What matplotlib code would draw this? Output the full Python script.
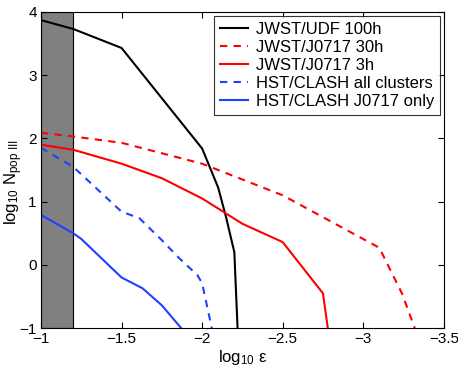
import numpy as np
import matplotlib.pyplot as plt

plt.rcParams['font.family'] = ['Liberation Sans', 'DejaVu Sans']
plt.rcParams['mathtext.fontset'] = 'custom'
plt.rcParams['mathtext.rm'] = 'Liberation Sans'
plt.rcParams['mathtext.it'] = 'Liberation Sans'

# data (log10 eps, log10 N)
udf_x = [-1.0, -1.2, -1.5, -2.0, -2.1, -2.15, -2.2, -2.22]
udf_y = [3.87, 3.73, 3.43, 1.84, 1.22, 0.74, 0.2, -1.0]

j30_x = [-1.0, -1.2, -1.5, -2.0, -2.5, -3.1, -3.24, -3.32]
j30_y = [2.09, 2.03, 1.93, 1.6, 1.1, 0.27, -0.45, -1.0]

j3_x = [-1.0, -1.2, -1.5, -1.75, -2.0, -2.25, -2.5, -2.75, -2.78]
j3_y = [1.9, 1.82, 1.6, 1.37, 1.05, 0.65, 0.36, -0.45, -1.0]

hall_x = [-1.0, -1.2, -1.5, -1.61, -1.75, -1.86, -1.97, -2.0, -2.06]
hall_y = [1.85, 1.55, 0.84, 0.74, 0.39, 0.1, -0.16, -0.29, -1.0]

hj_x = [-1.0, -1.2, -1.25, -1.5, -1.63, -1.75, -1.87]
hj_y = [0.79, 0.5, 0.41, -0.2, -0.37, -0.64, -1.0]

fig = plt.figure(figsize=(4.58, 3.72), dpi=100)
ax = fig.add_axes([0.0895, 0.118, 0.8795, 0.85])

# shaded excluded region
ax.axvspan(-1.0, -1.2, facecolor='#808080', edgecolor='k', lw=0.8)

ax.plot(udf_x, udf_y, 'k-', lw=1.5, label='JWST/UDF 100h')
ax.plot(j30_x, j30_y, 'r--', lw=1.5, label='JWST/J0717 30h', dashes=(3.5, 3))
ax.plot(j3_x, j3_y, 'r-', lw=1.5, label='JWST/J0717 3h')
ax.plot(hall_x, hall_y, '--', color='#2040ff', lw=1.5, label='HST/CLASH all clusters', dashes=(3.5, 3))
ax.plot(hj_x, hj_y, '-', color='#2040ff', lw=1.5, label='HST/CLASH J0717 only')

ax.set_xlim(-1, -3.5)
ax.set_ylim(-1, 4)
ax.set_xticks([-1, -1.5, -2, -2.5, -3, -3.5])
ax.set_xticklabels(['\u22121', '\u22121.5', '\u22122', '\u22122.5', '\u22123', '\u22123.5'])
ax.set_yticks([-1, 0, 1, 2, 3, 4])
ax.set_yticklabels(['\u22121', '0', '1', '2', '3', '4'])
ax.tick_params(direction='in', top=True, right=True, labelsize=11, length=4, pad=3)

ax.set_xlabel(r'log$_{10}$ $\epsilon$', fontsize=12, labelpad=1)
ax.set_ylabel(r'log$_{10}$ N$_{\rm pop\ III}$', fontsize=12)
ax.yaxis.set_label_coords(-0.04, 0.46)

leg = ax.legend(loc='upper right', fontsize=12, frameon=True, fancybox=False,
                edgecolor='k', handlelength=1.7, borderpad=0.35, labelspacing=0.18,
                handletextpad=0.45, borderaxespad=0, bbox_to_anchor=(0.99, 0.987))
leg.get_frame().set_linewidth(0.8)

fig.savefig('out.png', dpi=100)
